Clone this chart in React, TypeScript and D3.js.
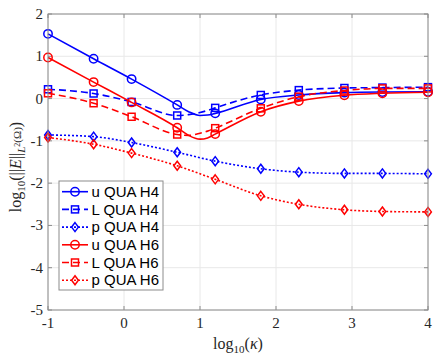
import React from "react";
import * as d3 from "d3";

const xMarkers = [-1, -0.4, 0.1, 0.7, 1.2, 1.8, 2.3, 2.9, 3.4, 4];
const uH4 = [1.53, 0.94, 0.46, -0.15, -0.35, -0.02, 0.085, 0.14, 0.155, 0.16];
const LH4 = [0.22, 0.12, -0.08, -0.4, -0.22, 0.085, 0.2, 0.25, 0.26, 0.27];
const pH4 = [-0.86, -0.9, -1.04, -1.27, -1.48, -1.66, -1.74, -1.77, -1.77, -1.78];
const uH6 = [0.97, 0.39, -0.09, -0.69, -0.84, -0.31, -0.06, 0.08, 0.125, 0.15];
const LH6 = [0.125, -0.11, -0.43, -0.85, -0.7, -0.23, 0.045, 0.19, 0.24, 0.24];
const pH6 = [-0.92, -1.08, -1.29, -1.59, -1.91, -2.3, -2.5, -2.63, -2.67, -2.68];

// extra points (curve minimum)
const xExtra = [0.85, 1.0, 1.1];
const uH4Extra = [-0.31, -0.4, -0.39];
const uH6Extra = [-0.87, -0.96, -0.93];
const LH4Extra = [-0.38, -0.33, -0.28];
const LH6Extra = [-0.87, -0.82, -0.77];

const xTicks = [-1, 0, 1, 2, 3, 4];
const yTicks = [-5, -4, -3, -2, -1, 0, 1, 2];

const legendLabels = ["u QUA H4", "L QUA H4", "p QUA H4", "u QUA H6", "L QUA H6", "p QUA H6"];

type Series = {
  label: string;
  values: number[];
  extraX: number[];
  extraY: number[];
  color: string;
  dash: string;
  marker: "o" | "s" | "d";
};

const BLUE = "#0000ff";
const RED = "#ff0000";
const DASH = "7,4";
const DOT = "2,2";

const series: Series[] = [
  { label: legendLabels[0], values: uH4, extraX: xExtra, extraY: uH4Extra, color: BLUE, dash: "", marker: "o" },
  { label: legendLabels[1], values: LH4, extraX: xExtra, extraY: LH4Extra, color: BLUE, dash: DASH, marker: "s" },
  { label: legendLabels[2], values: pH4, extraX: [], extraY: [], color: BLUE, dash: DOT, marker: "d" },
  { label: legendLabels[3], values: uH6, extraX: xExtra, extraY: uH6Extra, color: RED, dash: "", marker: "o" },
  { label: legendLabels[4], values: LH6, extraX: xExtra, extraY: LH6Extra, color: RED, dash: DASH, marker: "s" },
  { label: legendLabels[5], values: pH6, extraX: [], extraY: [], color: RED, dash: DOT, marker: "d" },
];

const W = 434;
const H = 360;
const left = 48;
const right = 428;
const top = 14;
const bottom = 310;

function Marker({ type, cx, cy, color }: { type: string; cx: number; cy: number; color: string }) {
  if (type === "o") return <circle cx={cx} cy={cy} r={4.2} fill="none" stroke={color} strokeWidth={1.5} />;
  if (type === "s") return <rect x={cx - 3.5} y={cy - 3.5} width={7} height={7} fill="none" stroke={color} strokeWidth={1.5} />;
  const r = 4.5;
  return (
    <path
      d={`M${cx},${cy - r}L${cx + r * 0.75},${cy}L${cx},${cy + r}L${cx - r * 0.75},${cy}Z`}
      fill="none"
      stroke={color}
      strokeWidth={1.5}
    />
  );
}

export default function App() {
  const x = d3.scaleLinear().domain([-1, 4]).range([left, right]);
  const y = d3.scaleLinear().domain([-5, 2]).range([bottom, top]);
  const line = d3
    .line<[number, number]>()
    .x((d) => x(d[0]))
    .y((d) => y(d[1]))
    .curve(d3.curveMonotoneX);

  const serif = "'Liberation Serif', 'DejaVu Serif', serif";
  const sans = "'Liberation Sans', Arial, sans-serif";
  const axisColor = "#8c8c8c";
  const gridColor = "#e8e8e8";
  const tickLen = 4;

  // legend geometry
  const lgX = 59;
  const lgY = 181;
  const lgW = 104;
  const lgH = 109;
  const rowH = 17.7;

  return (
    <svg width={W} height={H} style={{ position: "absolute", left: 0, top: 0, background: "#fff" }}>
      <rect x={0} y={0} width={W} height={H} fill="#fff" />
      {/* grid */}
      {xTicks.map((t) => (
        <line key={"gx" + t} x1={x(t)} x2={x(t)} y1={top} y2={bottom} stroke={gridColor} strokeWidth={1} />
      ))}
      {yTicks.map((t) => (
        <line key={"gy" + t} x1={left} x2={right} y1={y(t)} y2={y(t)} stroke={gridColor} strokeWidth={1} />
      ))}
      {/* ticks */}
      {xTicks.map((t) => (
        <g key={"tx" + t}>
          <line x1={x(t)} x2={x(t)} y1={bottom} y2={bottom - tickLen} stroke={axisColor} />
          <line x1={x(t)} x2={x(t)} y1={top} y2={top + tickLen} stroke={axisColor} />
          <text x={x(t)} y={328} textAnchor="middle" fontFamily={serif} fontSize={15} fill="#262626">
            {t < 0 ? "-" + Math.abs(t) : t}
          </text>
        </g>
      ))}
      {yTicks.map((t) => (
        <g key={"ty" + t}>
          <line x1={left} x2={left + tickLen} y1={y(t)} y2={y(t)} stroke={axisColor} />
          <line x1={right} x2={right - tickLen} y1={y(t)} y2={y(t)} stroke={axisColor} />
          <text x={43} y={y(t) + 5} textAnchor="end" fontFamily={serif} fontSize={15} fill="#262626">
            {t < 0 ? "-" + Math.abs(t) : t}
          </text>
        </g>
      ))}
      {/* series */}
      {series.map((s) => {
        const pts: [number, number][] = xMarkers.map((xv, i) => [xv, s.values[i]] as [number, number]);
        s.extraX.forEach((xv, i) => pts.push([xv, s.extraY[i]]));
        pts.sort((a, b) => a[0] - b[0]);
        return (
          <g key={s.label}>
            <path d={line(pts) || ""} fill="none" stroke={s.color} strokeWidth={1.6} strokeDasharray={s.dash || undefined} />
            {xMarkers.map((xv, i) => (
              <Marker key={i} type={s.marker} cx={x(xv)} cy={y(s.values[i])} color={s.color} />
            ))}
          </g>
        );
      })}
      {/* box */}
      <rect x={left} y={top} width={right - left} height={bottom - top} fill="none" stroke={axisColor} strokeWidth={1} />
      {/* axis labels */}
      <text x={(left + right) / 2} y={349} textAnchor="middle" fontFamily={serif} fontSize={16} fill="#262626">
        log<tspan fontSize={11} dy={4}>10</tspan>
        <tspan dy={-4}>(</tspan>
        <tspan fontStyle="italic">κ</tspan>)
      </text>
      <text
        transform={`translate(21,167) rotate(-90)`}
        textAnchor="middle"
        fontFamily={serif}
        fontSize={16}
        fill="#262626"
      >
        log<tspan fontSize={11} dy={4}>10</tspan>
        <tspan dy={-4}>(||</tspan>
        <tspan fontStyle="italic">E</tspan>
        <tspan>||</tspan>
        <tspan fontSize={11} dy={4} fontStyle="italic">L</tspan>
        <tspan fontSize={8} dy={-5}>2</tspan>
        <tspan fontSize={11} dy={1}>(Ω)</tspan>
        <tspan dy={0}>)</tspan>
      </text>
      {/* legend */}
      <rect x={lgX} y={lgY} width={lgW} height={lgH} fill="#fff" stroke="#8c8c8c" strokeWidth={1} />
      {series.map((s, i) => {
        const cy = lgY + 10.7 + i * rowH;
        return (
          <g key={"lg" + i}>
            <line x1={62} x2={88} y1={cy} y2={cy} stroke={s.color} strokeWidth={1.6} strokeDasharray={s.dash || undefined} />
            <Marker type={s.marker} cx={75} cy={cy} color={s.color} />
            <text x={91.5} y={cy + 5.2} fontFamily={sans} fontSize={15} fill="#000">
              {s.label}
            </text>
          </g>
        );
      })}
    </svg>
  );
}
